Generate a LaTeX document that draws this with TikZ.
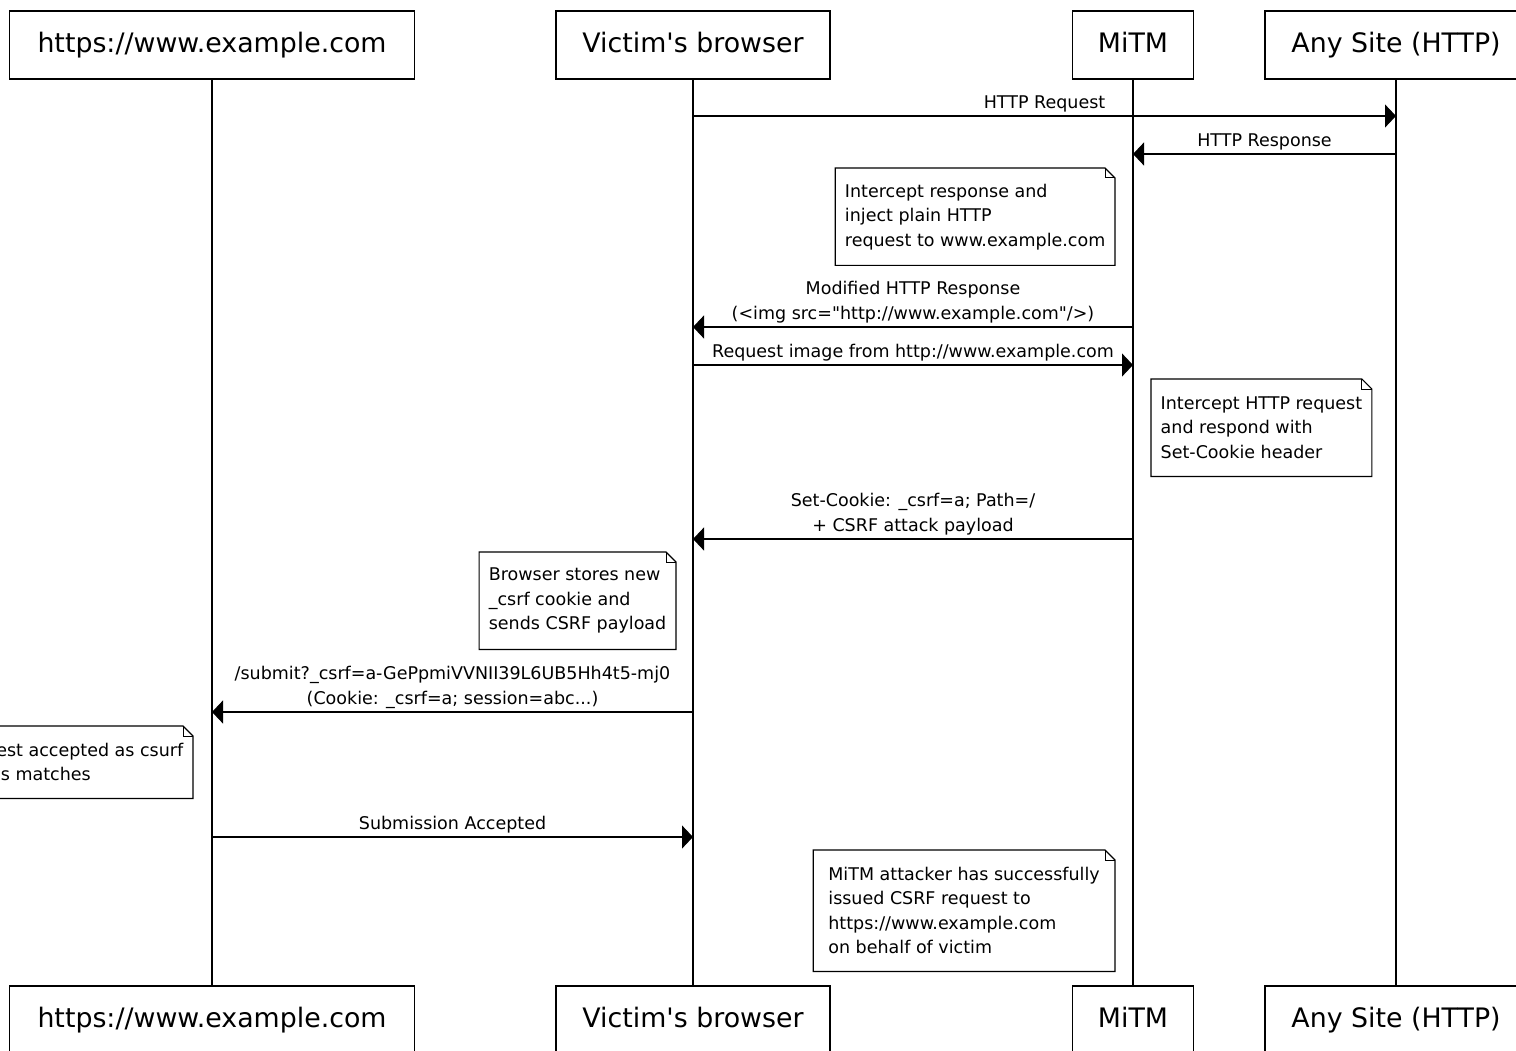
\documentclass[tikz,border=0pt]{standalone}
\usepackage{fontspec}
\newfontfamily\dvs{DejaVu Sans}
\usetikzlibrary{arrows.meta}
\newcommand\mystrut{\rule[-6pt]{0pt}{6pt}}
\newcommand\notefold[1]{%
  \draw[line width=1.2pt] (#1.north west) -- ([xshift=-10pt]#1.north east) -- ([yshift=-10pt]#1.north east) -- (#1.south east) -- (#1.south west) -- cycle;
  \draw[line width=1pt] ([xshift=-10pt]#1.north east) -- ([xshift=-10pt,yshift=-10pt]#1.north east) -- ([yshift=-10pt]#1.north east);}
\begin{document}
\begin{tikzpicture}[x=1pt,y=-1pt,
  actor/.style={draw, line width=1.2pt, minimum height=68pt, inner sep=0pt, fill=white,
    text height=20pt, text depth=5pt,
    font=\dvs\fontsize{26.8}{32}\selectfont},
  msg/.style={line width=1.2pt, -{Triangle[length=11pt,width=23pt]}},
  lbl/.style={font=\dvs\fontsize{17.5}{24.5}\selectfont, align=center, inner sep=0pt, anchor=south, yshift=1pt},
  notebox/.style={fill=white, draw=none, align=left, inner xsep=9.5pt, inner ysep=0pt,
    font=\dvs\fontsize{17.5}{24.5}\selectfont},
  life/.style={line width=1.2pt}]
\useasboundingbox (0,0) rectangle (1516,1051);
\clip (0,0) rectangle (1516,1051);
% actors top
\node[actor, minimum width=405pt] (exH) at (212,45) {https://www.example.com};
\node[actor, minimum width=274pt] (brH) at (693,45) {Victim's browser};
\node[actor, minimum width=121pt] (miH) at (1133,45) {MiTM};
\node[actor, minimum width=262pt] (anH) at (1396,45) {Any Site (HTTP)};
% actors bottom
\node[actor, minimum width=405pt] (exF) at (212,1020) {https://www.example.com};
\node[actor, minimum width=274pt] (brF) at (693,1020) {Victim's browser};
\node[actor, minimum width=121pt] (miF) at (1133,1020) {MiTM};
\node[actor, minimum width=262pt] (anF) at (1396,1020) {Any Site (HTTP)};
% lifelines
\draw[life] (exH) -- (exF);
\draw[life] (brH) -- (brF);
\draw[life] (miH) -- (miF);
\draw[life] (anH) -- (anF);
% messages
\draw[msg] (brH |- 0,116) -- node[lbl, midway] {HTTP Request\mystrut} (anH |- 0,116);
\draw[msg] (anH |- 0,154) -- node[lbl, midway] {HTTP Response\mystrut} (miH |- 0,154);
\draw[msg] (miH |- 0,327) -- node[lbl, midway] {Modified HTTP Response\\(<img src="http://www.example.com"/>)\mystrut} (brH |- 0,327);
\draw[msg] (brH |- 0,365) -- node[lbl, midway] {Request image from http://www.example.com\mystrut} (miH |- 0,365);
\draw[msg] (miH |- 0,539) -- node[lbl, midway] {Set-Cookie: \_csrf=a; Path=/\\+ CSRF attack payload\mystrut} (brH |- 0,539);
\draw[msg] (brH |- 0,712) -- node[lbl, midway] {/submit?\_csrf=a-GePpmiVVNII39L6UB5Hh4t5-mj0\\(Cookie: \_csrf=a; session=abc...)\mystrut} (exH |- 0,712);
\draw[msg] (exH |- 0,837) -- node[lbl, midway] {Submission Accepted\mystrut} (brH |- 0,837);
% notes
\node[notebox, minimum height=97pt, anchor=north east] (n1) at (1115,168)
  {Intercept response and\\inject plain HTTP\\request to www.example.com};
\notefold{n1}
\node[notebox, minimum height=97pt, anchor=north west] (n2) at (1151,379)
  {Intercept HTTP request\\and respond with\\Set-Cookie header};
\notefold{n2}
\node[notebox, minimum height=97pt, anchor=north east] (n3) at (676,552)
  {Browser stores new\\\_csrf cookie and\\sends CSRF payload};
\notefold{n3}
\node[notebox, minimum height=72pt, anchor=north east] (n4) at (193,726)
  {Request accepted as csurf\\tokens matches};
\notefold{n4}
\node[notebox, minimum height=121pt, anchor=north east, inner xsep=15pt] (n5) at (1115,850)
  {MiTM attacker has successfully\\issued CSRF request to\\https://www.example.com\\on behalf of victim};
\notefold{n5}
\end{tikzpicture}
\end{document}
